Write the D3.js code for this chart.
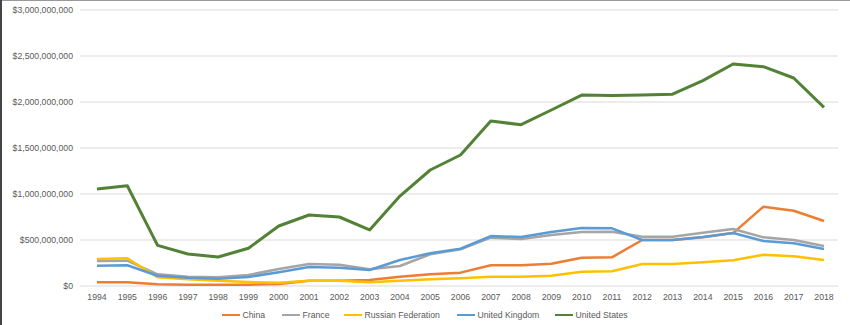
<!DOCTYPE html>
<html><head><meta charset="utf-8">
<script src="https://cdn.jsdelivr.net/npm/d3@7"></script>
<style>body{margin:0;background:#fff}svg{display:block;font-family:"Liberation Sans",Arial,sans-serif}</style>
</head><body><svg id="c" width="850" height="325"></svg>
<script>
const years = [1994,1995,1996,1997,1998,1999,2000,2001,2002,2003,2004,2005,2006,2007,2008,2009,2010,2011,2012,2013,2014,2015,2016,2017,2018];
const china   = [40,40,18,14,14,14,22,58,58,65,101,127,145,225,225,242,308,312,500,500,530,575,862,818,707];
const france  = [272,275,127,101,95,120,185,239,232,181,217,344,399,525,511,554,587,590,536,536,580,620,529,500,435];
const russia  = [293,301,95,73,58,43,35,58,58,40,58,73,84,101,101,112,155,160,239,239,258,279,340,323,283];
const uk      = [221,225,112,90,79,98,149,207,199,174,283,355,405,543,533,587,630,627,500,500,533,576,489,464,402];
const us      = [1055,1090,442,348,315,410,652,772,750,609,978,1261,1424,1793,1753,1913,2075,2072,2077,2085,2232,2413,2384,2261,1942];
const yTicks  = [0,500,1000,1500,2000,2500,3000];
const seriesNames = ["China","France","Russian Federation","United Kingdom","United States"];
const seriesData = [china,france,russia,uk,us];
const colors = ["#ED7D31","#A5A5A5","#FFC000","#5B9BD5","#538135"];
const widths = [2.5,2.5,2.5,2.5,3];

const svg = d3.select("#c");
svg.append("rect").attr("x",0).attr("y",0).attr("width",850).attr("height",1).attr("fill","#999");
svg.append("rect").attr("x",0).attr("y",0).attr("width",2).attr("height",325).attr("fill","#444");

const x = d3.scalePoint().domain(years).range([97,824]);
const y = d3.scaleLinear().domain([0,3000]).range([286,10]);

const fmt = v => v===0 ? "$0" : "$" + d3.format(",")(v*1e6);
const fs = 8.7;

const g = svg.append("g");
g.selectAll("line.grid").data(yTicks).join("line")
  .attr("x1",80).attr("x2",838)
  .attr("y1",d=>y(d)).attr("y2",d=>y(d))
  .attr("stroke","#d9d9d9").attr("stroke-width",1);
g.selectAll("text.yl").data(yTicks).join("text")
  .attr("x",73).attr("y",d=>y(d)+3)
  .attr("text-anchor","end").attr("font-size",fs).attr("fill","#595959")
  .text(fmt);
g.selectAll("text.xl").data(years).join("text")
  .attr("x",d=>x(d)).attr("y",300)
  .attr("text-anchor","middle").attr("font-size",fs).attr("fill","#595959")
  .text(d=>d);

const line = d3.line().x((d,i)=>x(years[i])).y(d=>y(d));
seriesData.forEach((s,i)=>{
  svg.append("path").attr("d",line(s)).attr("fill","none")
    .attr("stroke",colors[i]).attr("stroke-width",widths[i])
    .attr("stroke-linejoin","round");
});

const legX = [222,282,344,457,555];
const leg = svg.append("g");
seriesNames.forEach((n,i)=>{
  leg.append("line").attr("x1",legX[i]).attr("x2",legX[i]+18)
    .attr("y1",315).attr("y2",315).attr("stroke",colors[i]).attr("stroke-width",2);
  leg.append("text").attr("x",legX[i]+20.5).attr("y",318)
    .attr("font-size",fs).attr("fill","#595959").text(n);
});
</script></body></html>
